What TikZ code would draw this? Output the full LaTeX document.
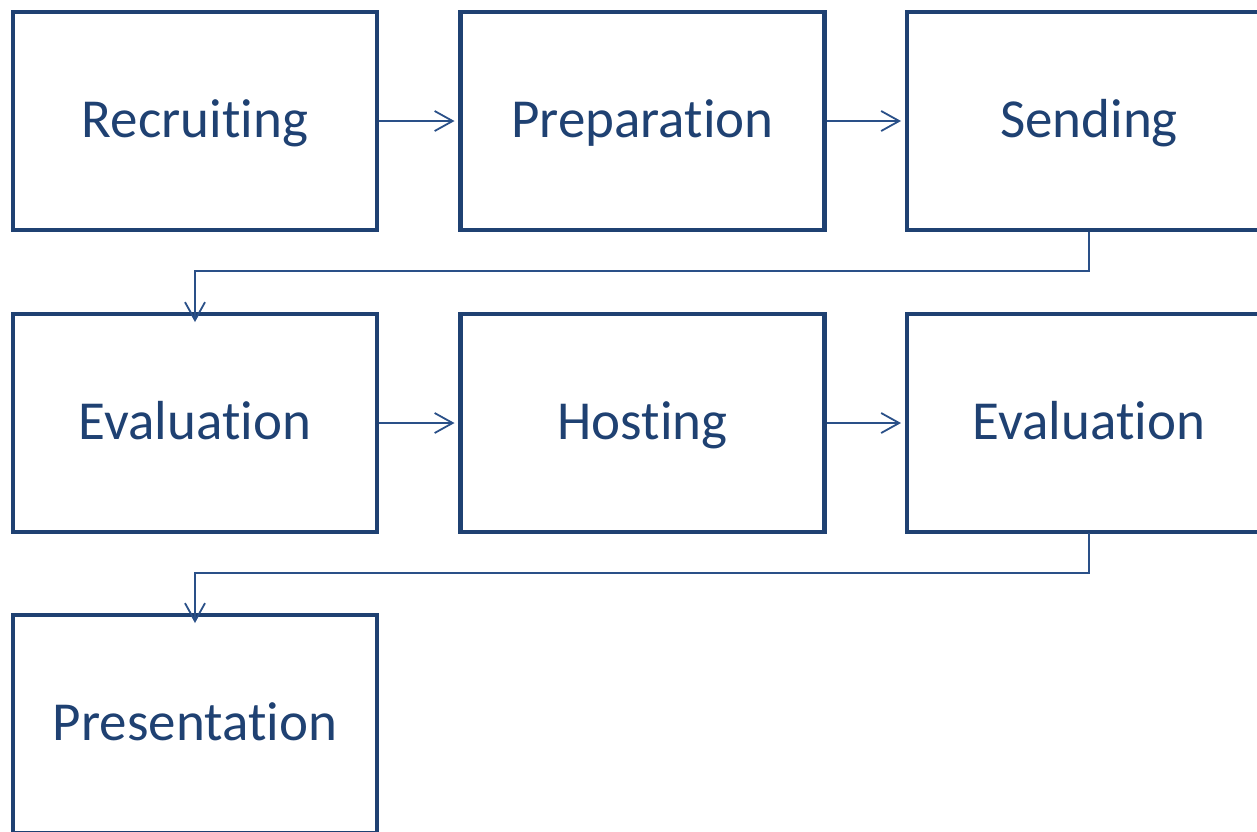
\documentclass[tikz,border=0pt]{standalone}
\usepackage{fontspec}
\setmainfont[Ligatures={NoCommon}]{Carlito}
\usetikzlibrary{arrows.meta}
\definecolor{boxblue}{HTML}{1F4172}
\definecolor{linkblue}{HTML}{2A5088}
\tikzset{
  stage/.style={draw=boxblue, line width=4.8pt, minimum width=364pt, minimum height=218pt,
    inner sep=0pt, outer sep=0pt, text=boxblue, font=\fontsize{55}{62}\selectfont,
    text height=32pt, text depth=0pt, anchor=north west},
  link/.style={draw=linkblue, line width=1.8pt, -{Straight Barb[length=18pt,width=20pt,line width=1.8pt]}}
}
\begin{document}
\begin{tikzpicture}[x=1pt,y=-1pt]
\useasboundingbox (0,0) rectangle (1257,831);
\clip (0,0) rectangle (1257,831);
\node[stage] (rec)  at (13,12)   {Recruiting};
\node[stage] (prep) at (460.5,12) {Preparation};
\node[stage] (send) at (907,12)  {Sending};
\node[stage] (ev1)  at (13,314)  {Evaluation};
\node[stage] (host) at (460.5,314) {Hosting};
\node[stage] (ev2)  at (907,314) {Evaluation};
\node[stage] (pres) at (13,615)  {Presentation};
\draw[link] (rec.east) ++(2,0) -- ([xshift=-6pt]prep.west);
\draw[link] (prep.east) ++(2,0) -- ([xshift=-6pt]send.west);
\draw[link] (ev1.east) ++(2,0) -- ([xshift=-6pt]host.west);
\draw[link] (host.east) ++(2,0) -- ([xshift=-6pt]ev2.west);
\coordinate (s1) at (1089,232);
\coordinate (s2) at (1089,533);
\draw[link] (s1) |- (195,271) -- ([yshift=-8pt]ev1.north -| 195,0);
\draw[link] (s2) |- (195,573) -- ([yshift=-8pt]pres.north -| 195,0);
\end{tikzpicture}
\end{document}
